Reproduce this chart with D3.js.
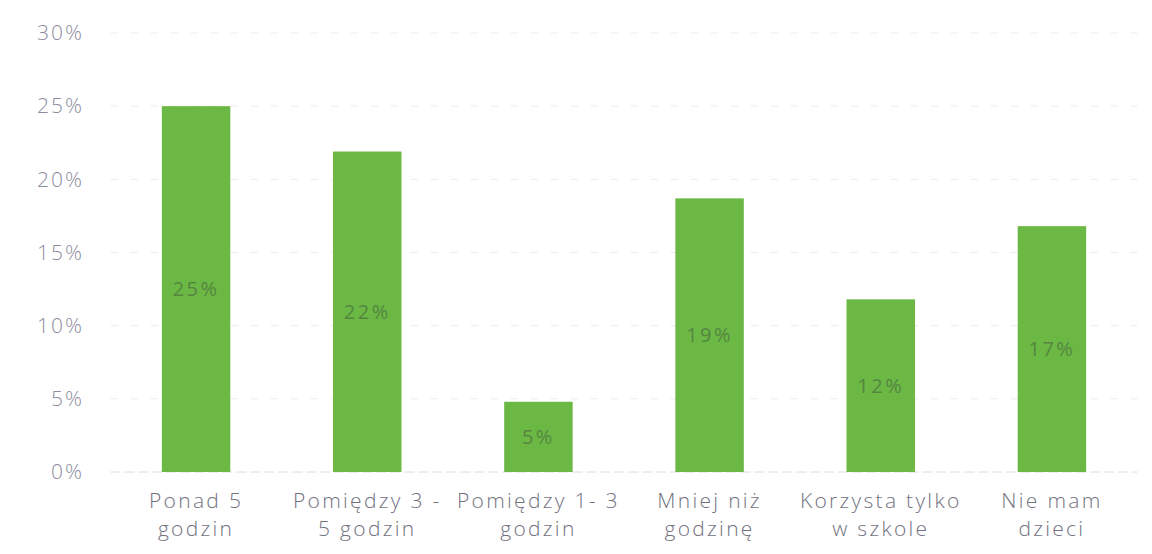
<!DOCTYPE html>
<html>
<head>
<meta charset="utf-8">
<script src="https://cdn.jsdelivr.net/npm/d3@7"></script>
<style>
  html, body { margin: 0; padding: 0; background: #ffffff; }
  svg { display: block; }
</style>
</head>
<body>
<svg id="chart" width="1152" height="554"></svg>
<script>
const categories = [
  ["Ponad 5", "godzin"],
  ["Pomiędzy 3 -", "5 godzin"],
  ["Pomiędzy 1- 3", "godzin"],
  ["Mniej niż", "godzinę"],
  ["Korzysta tylko", "w szkole"],
  ["Nie mam", "dzieci"]
];
const values = [25, 21.9, 4.8, 18.7, 11.8, 16.8];
const valueLabels = ["25%", "22%", "5%", "19%", "12%", "17%"];
const yTicks = [0, 5, 10, 15, 20, 25, 30];

const svg = d3.select("#chart");
const mLeft = 110.5, mRight = 1137.5, mTop = 33, mBottom = 472;
const font = "'Open Sans', Lato, sans-serif";

const x = d3.scaleBand().domain(d3.range(categories.length)).range([mLeft, mRight]).paddingInner(0.6).paddingOuter(0.3);
const y = d3.scaleLinear().domain([0, 30]).range([mBottom, mTop]);

// gridlines
svg.append("g").selectAll("line").data(yTicks).join("line")
  .attr("x1", mLeft).attr("x2", mRight)
  .attr("y1", d => y(d)).attr("y2", d => y(d))
  .attr("stroke", d => d === 0 ? "#dcdcdc" : "#ededed")
  .attr("stroke-width", 1)
  .attr("stroke-dasharray", d => d === 0 ? "10,4" : "8,12");

// y axis
const yAxis = d3.axisLeft(y).tickValues(yTicks).tickFormat(d => d + "%").tickSize(0).tickPadding(0);
const ya = svg.append("g").attr("transform", "translate(84,0)").call(yAxis);
ya.select(".domain").remove();
ya.selectAll("text").attr("fill", "#8c8c9e").style("font-family", font).style("font-size", "21px")
  .style("font-weight", 300).style("letter-spacing", "2px");

// bars
svg.append("g").selectAll("rect").data(values).join("rect")
  .attr("x", (d, i) => x(i)).attr("width", x.bandwidth())
  .attr("y", d => y(d)).attr("height", d => y(0) - y(d))
  .attr("fill", "#6cb845");

// value labels
svg.append("g").selectAll("text").data(values).join("text")
  .attr("x", (d, i) => x(i) + x.bandwidth() / 2)
  .attr("y", d => (y(d) + y(0)) / 2)
  .attr("dy", "0.35em")
  .attr("text-anchor", "middle")
  .attr("fill", "#558640")
  .style("font-family", font).style("font-size", "20px").style("letter-spacing", "2.5px")
  .text((d, i) => valueLabels[i]);

// category labels
const xa = svg.append("g").attr("transform", `translate(0,${mBottom})`)
  .call(d3.axisBottom(x).tickSize(0).tickFormat(() => ""));
xa.select(".domain").remove();
xa.selectAll(".tick").each(function(d) {
  const t = d3.select(this).append("text")
    .attr("text-anchor", "middle")
    .attr("fill", "#72727f")
    .style("font-family", font).style("font-size", "21px")
    .style("font-weight", 300).style("letter-spacing", "2.3px");
  categories[d].forEach((line, k) => {
    t.append("tspan").attr("x", 0).attr("y", 36 + k * 28).text(line);
  });
});
</script>
</body>
</html>
